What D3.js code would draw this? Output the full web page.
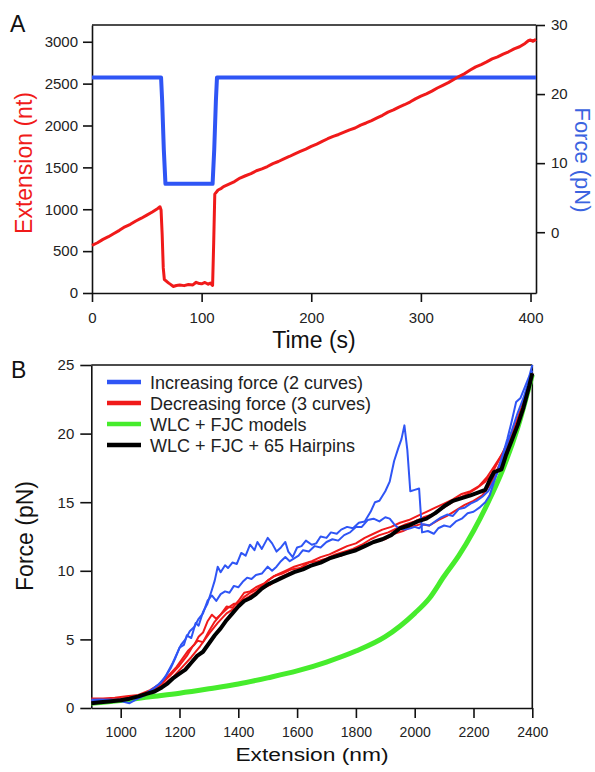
<!DOCTYPE html>
<html>
<head>
<meta charset="utf-8">
<script src="https://cdn.jsdelivr.net/npm/d3@7"></script>
<style>
  body { margin: 0; background: #fff; }
  svg { display: block; font-family: "Liberation Sans", Arial, sans-serif; }
</style>
</head>
<body>
<svg id="chart" width="595" height="772"></svg>
<script>
// ---- Panel A: extension and force vs time ----
const timeTicks = [0, 100, 200, 300, 400];
const extTicks = [0, 500, 1000, 1500, 2000, 2500, 3000];
const forceTicksA = [0, 10, 20, 30];

// [time (s), extension (nt)]
const extensionTrace = [
  [0, 570], [5, 600], [10, 640], [15, 672], [20, 710], [25, 748], [30, 790], [35, 820],
  [40, 860], [45, 893], [50, 930], [55, 968], [60, 1010], [62, 1030], [63, 990], [64, 700],
  [65, 300], [66, 160], [68, 140], [70, 118], [72, 100], [74, 78], [77, 90], [80, 95],
  [84, 88], [88, 102], [92, 96], [95, 128], [98, 112], [100, 110], [103, 126], [106, 104],
  [108, 118], [110, 90], [111, 600], [112, 1180], [115, 1230], [118, 1250], [120, 1270],
  [125, 1300], [130, 1330], [135, 1372], [140, 1400], [145, 1425], [150, 1460], [155, 1482],
  [160, 1510], [165, 1545], [170, 1570], [175, 1602], [180, 1630], [185, 1662], [190, 1690],
  [195, 1718], [200, 1750], [205, 1778], [210, 1810], [215, 1842], [220, 1870], [225, 1893],
  [230, 1920], [235, 1948], [240, 1970], [245, 2005], [250, 2030], [255, 2058], [260, 2090],
  [265, 2122], [270, 2160], [275, 2186], [280, 2220], [285, 2248], [290, 2280], [295, 2318],
  [300, 2350], [305, 2378], [310, 2410], [315, 2448], [320, 2480], [325, 2512], [330, 2550],
  [335, 2588], [340, 2620], [345, 2662], [350, 2700], [355, 2728], [360, 2760], [365, 2795],
  [370, 2820], [375, 2852], [380, 2880], [385, 2915], [390, 2940], [395, 2980], [398, 3012],
  [400, 3022], [402, 3005], [405, 3028]
];

// [time (s), force (pN)]
const forceTrace = [
  [0, 22.4], [63, 22.4], [64, 19], [65.5, 12], [67, 7.0], [110, 7.0],
  [111.5, 12], [113, 19], [114, 22.4], [405, 22.4]
];

// ---- Panel B: force vs extension ----
const extTicksB = [1000, 1200, 1400, 1600, 1800, 2000, 2200, 2400];
const forceTicksB = [0, 5, 10, 15, 20, 25];
const legendLabels = [
  "Increasing force (2 curves)",
  "Decreasing force (3 curves)",
  "WLC + FJC models",
  "WLC + FJC + 65 Hairpins"
];

// [extension (nm), force (pN)]
const increasing1 = [
  [900, 0.6], [930, 0.62], [960, 0.6], [990, 0.55], [1010, 0.45], [1030, 0.35], [1050, 0.6],
  [1080, 0.9], [1110, 1.4], [1130, 1.75], [1150, 2.2], [1170, 2.9], [1185, 3.6], [1200, 4.4],
  [1215, 4.6], [1225, 5.3], [1240, 5.1], [1255, 6.2], [1265, 6.0], [1280, 7.0], [1295, 7.6],
  [1310, 8.6], [1320, 9.3], [1330, 10.3], [1340, 9.9], [1355, 10.4], [1365, 10.2], [1380, 10.6],
  [1395, 10.5], [1410, 11.3], [1425, 11.1], [1440, 11.9], [1455, 11.5], [1465, 12.1], [1480, 11.6],
  [1500, 12.4], [1515, 12.0], [1530, 11.4], [1545, 11.7], [1560, 12.1], [1570, 11.4], [1585, 11.0],
  [1600, 11.7], [1615, 11.8], [1630, 12.2], [1650, 11.9], [1665, 12.0], [1680, 12.5], [1700, 12.4],
  [1715, 12.8], [1735, 12.7], [1750, 13.0], [1770, 13.2], [1790, 13.1], [1810, 13.5], [1830, 13.6],
  [1850, 14.3], [1865, 15.0], [1880, 15.1], [1900, 15.8], [1915, 16.5], [1930, 18.0], [1945, 19.0],
  [1955, 19.6], [1965, 20.6], [1975, 18.8], [1985, 15.8], [2000, 15.9], [2015, 16.0], [2025, 12.8],
  [2045, 12.9], [2065, 12.7], [2080, 13.1], [2100, 13.3], [2120, 13.2], [2140, 13.6], [2160, 13.8],
  [2180, 14.2], [2200, 14.3], [2220, 14.6], [2240, 15.0], [2255, 15.5], [2270, 16.5], [2285, 17.5],
  [2300, 18.5], [2315, 19.6], [2330, 20.9], [2345, 22.3], [2360, 22.6], [2375, 23.4], [2390, 24.2],
  [2400, 25.0]
];
const increasing2 = [
  [900, 0.5], [930, 0.55], [960, 0.6], [990, 0.6], [1020, 0.65], [1050, 0.8], [1080, 1.0],
  [1110, 1.4], [1135, 1.8], [1155, 2.4], [1175, 3.2], [1190, 3.9], [1205, 4.6], [1220, 5.0],
  [1235, 5.6], [1250, 5.9], [1265, 6.5], [1280, 6.9], [1295, 7.8], [1310, 8.2], [1325, 7.8],
  [1340, 8.3], [1355, 8.5], [1370, 8.4], [1385, 8.9], [1400, 8.8], [1415, 9.2], [1430, 9.5],
  [1445, 9.4], [1460, 9.7], [1480, 9.8], [1500, 10.3], [1515, 10.0], [1530, 10.3], [1545, 10.7],
  [1560, 11.0], [1575, 10.7], [1590, 10.9], [1605, 11.1], [1620, 11.5], [1640, 11.4], [1660, 11.8],
  [1680, 11.7], [1700, 12.1], [1720, 12.3], [1740, 12.2], [1760, 12.6], [1780, 12.8], [1800, 13.2],
  [1820, 13.2], [1840, 13.7], [1860, 13.8], [1880, 13.6], [1900, 13.9], [1915, 13.8], [1930, 13.4],
  [1945, 13.1], [1965, 13.0], [1985, 13.1], [2000, 13.2], [2015, 13.1], [2030, 13.4], [2050, 13.3],
  [2070, 13.6], [2090, 13.9], [2110, 14.1], [2130, 14.0], [2150, 14.5], [2170, 14.6], [2190, 14.9],
  [2210, 15.1], [2230, 15.4], [2250, 15.8], [2270, 16.6], [2290, 17.6], [2310, 19.0], [2330, 20.2],
  [2350, 21.5], [2370, 22.6], [2390, 24.0], [2400, 24.6]
];
const decreasing1 = [
  [900, 0.7], [940, 0.7], [980, 0.75], [1020, 0.85], [1060, 0.95], [1100, 1.3], [1130, 1.7],
  [1160, 2.3], [1190, 3.0], [1210, 3.6], [1230, 4.2], [1250, 4.6], [1265, 5.2], [1280, 5.5],
  [1295, 6.3], [1310, 6.8], [1325, 6.5], [1345, 6.9], [1365, 7.3], [1385, 7.6], [1400, 7.6],
  [1420, 8.1], [1440, 8.4], [1460, 8.6], [1480, 8.9], [1500, 9.3], [1530, 9.7], [1560, 10.0],
  [1590, 10.3], [1620, 10.5], [1650, 10.7], [1680, 11.0], [1710, 11.2], [1740, 11.5], [1770, 11.8],
  [1800, 12.0], [1830, 12.4], [1860, 12.7], [1890, 13.0], [1920, 13.2], [1950, 13.5], [1980, 13.7],
  [2010, 14.0], [2040, 14.3], [2070, 14.6], [2100, 14.9], [2130, 15.2], [2160, 15.6], [2190, 15.8],
  [2220, 16.2], [2245, 16.8], [2270, 17.6], [2300, 18.6], [2330, 20.0], [2360, 21.7], [2380, 22.9],
  [2400, 24.2]
];
const decreasing2 = [
  [900, 0.45], [940, 0.5], [980, 0.6], [1020, 0.7], [1060, 0.9], [1100, 1.2], [1140, 1.8],
  [1170, 2.4], [1200, 3.1], [1225, 3.8], [1245, 4.5], [1262, 4.9], [1280, 4.8], [1300, 5.6],
  [1320, 6.3], [1340, 6.8], [1360, 7.4], [1380, 7.3], [1400, 7.8], [1420, 8.4], [1440, 8.5],
  [1460, 8.8], [1490, 9.1], [1520, 9.6], [1550, 9.8], [1580, 10.1], [1610, 10.2], [1640, 10.6],
  [1670, 10.7], [1700, 10.9], [1730, 11.2], [1760, 11.4], [1790, 11.6], [1820, 11.9], [1850, 12.3],
  [1880, 12.6], [1910, 12.8], [1940, 13.1], [1970, 13.4], [2000, 13.6], [2030, 13.9], [2060, 14.1],
  [2090, 14.5], [2120, 14.9], [2150, 15.3], [2180, 15.6], [2210, 16.0], [2240, 16.5], [2260, 17.0],
  [2290, 18.2], [2320, 19.5], [2350, 21.0], [2375, 22.6], [2400, 24.4]
];
const decreasing3 = [
  [900, 0.5], [950, 0.55], [1000, 0.65], [1040, 0.8], [1080, 1.0], [1120, 1.4], [1150, 1.8],
  [1180, 2.3], [1210, 3.0], [1240, 3.7], [1270, 4.5], [1300, 5.4], [1330, 6.2], [1360, 6.9],
  [1390, 7.3], [1420, 7.9], [1450, 8.3], [1480, 8.7], [1510, 9.0], [1540, 9.5], [1570, 9.8],
  [1600, 10.0], [1630, 10.3], [1660, 10.5], [1690, 10.7], [1720, 11.0], [1750, 11.1], [1780, 11.4],
  [1810, 11.7], [1840, 11.9], [1870, 12.2], [1900, 12.3], [1930, 12.7], [1960, 12.9], [1990, 13.2],
  [2020, 13.4], [2050, 13.3], [2080, 13.7], [2110, 14.0], [2140, 14.4], [2170, 14.8], [2200, 15.1],
  [2230, 15.5], [2260, 16.4], [2290, 17.8], [2320, 19.3], [2350, 20.8], [2380, 22.8], [2400, 24.3]
];
const wlcFjc = [
  [900, 0.35], [1000, 0.55], [1100, 0.82], [1200, 1.08], [1300, 1.4], [1400, 1.75], [1500, 2.2],
  [1600, 2.7], [1700, 3.35], [1800, 4.15], [1900, 5.2], [2000, 6.9], [2050, 8.0], [2100, 9.6],
  [2150, 11.1], [2200, 12.9], [2250, 15.0], [2300, 17.4], [2350, 20.4], [2400, 24.3]
];
const wlcFjcHairpins = [
  [900, 0.35], [930, 0.42], [960, 0.48], [1000, 0.56], [1030, 0.68], [1060, 0.85], [1090, 1.05],
  [1115, 1.2], [1140, 1.5], [1160, 1.8], [1180, 2.2], [1200, 2.5], [1220, 2.8], [1240, 3.3],
  [1260, 3.8], [1280, 4.1], [1300, 4.7], [1320, 5.3], [1340, 5.8], [1360, 6.4], [1380, 6.9],
  [1400, 7.4], [1420, 7.8], [1440, 8.0], [1460, 8.3], [1480, 8.7], [1500, 9.0], [1530, 9.3],
  [1560, 9.6], [1590, 9.9], [1620, 10.1], [1650, 10.4], [1680, 10.6], [1710, 10.9], [1740, 11.1],
  [1770, 11.3], [1800, 11.5], [1830, 11.8], [1860, 12.1], [1890, 12.3], [1920, 12.6], [1950, 13.1],
  [1980, 13.3], [2010, 13.6], [2040, 13.8], [2070, 14.2], [2100, 14.7], [2130, 15.1], [2160, 15.3],
  [2190, 15.5], [2215, 15.7], [2240, 15.9], [2255, 16.6], [2270, 17.2], [2295, 17.4], [2310, 18.4],
  [2330, 19.5], [2350, 20.6], [2370, 21.9], [2390, 23.5], [2400, 24.4]
];

const RED = "#f01a1a", BLUE = "#2f55f5", GREEN = "#46ec2c", BLACK = "#000";
const FONT = "'Liberation Sans', Arial, sans-serif";

const svg = d3.select("#chart");

function styleAxis(g, size) {
  g.attr("font-family", FONT).attr("font-size", size);
  g.selectAll(".domain, .tick line").attr("stroke", "#111").attr("stroke-width", 1.6);
  g.selectAll(".tick text").attr("fill", "#222");
}

// ===== Panel A =====
const xA = d3.scaleLinear().domain([0, 405]).range([92, 536]);
const yExt = d3.scaleLinear().domain([0, 3200]).range([293, 25]);
const yForceA = d3.scaleLinear().domain([-8.8, 30]).range([293, 25]);

const gA = svg.append("g");
gA.append("line").attr("x1", 92).attr("x2", 536).attr("y1", 25).attr("y2", 25)
  .attr("stroke", "#111").attr("stroke-width", 1.6);

gA.append("g").attr("transform", "translate(0,293)")
  .call(d3.axisBottom(xA).tickValues(timeTicks).tickFormat(d3.format("d"))
    .tickSize(9).tickPadding(10).tickSizeOuter(0))
  .call(styleAxis, 15);
gA.append("g").attr("transform", "translate(92,0)")
  .call(d3.axisLeft(yExt).tickValues(extTicks).tickFormat(d3.format("d"))
    .tickSize(9).tickPadding(5).tickSizeOuter(0))
  .call(styleAxis, 15);
gA.append("g").attr("transform", "translate(536,0)")
  .call(d3.axisRight(yForceA).tickValues(forceTicksA).tickFormat(d3.format("d"))
    .tickSize(9).tickPadding(6).tickSizeOuter(0))
  .call(styleAxis, 15);

gA.append("path").datum(forceTrace)
  .attr("d", d3.line().x(d => xA(d[0])).y(d => yForceA(d[1])))
  .attr("fill", "none").attr("stroke", BLUE).attr("stroke-width", 4).attr("stroke-linejoin", "round");
gA.append("path").datum(extensionTrace)
  .attr("d", d3.line().x(d => xA(d[0])).y(d => yExt(d[1])))
  .attr("fill", "none").attr("stroke", RED).attr("stroke-width", 3).attr("stroke-linejoin", "round");

gA.append("text").attr("x", 10).attr("y", 32).attr("font-size", 23).attr("fill", "#111").text("A");
gA.append("text").attr("x", 314).attr("y", 348).attr("text-anchor", "middle")
  .attr("font-size", 23).attr("fill", "#111").text("Time (s)");
gA.append("text").attr("transform", "translate(32,163) rotate(-90)").attr("text-anchor", "middle")
  .attr("font-size", 23).attr("fill", RED).text("Extension (nt)");
gA.append("text").attr("transform", "translate(575,160) rotate(90)").attr("text-anchor", "middle")
  .attr("font-size", 22).attr("fill", "#3b63e0").text("Force (pN)");

// ===== Panel B =====
const xB = d3.scaleLinear().domain([900, 2400]).range([91.3, 532.3]);
const yB = d3.scaleLinear().domain([0, 25]).range([708, 365]);

const gB = svg.append("g");
gB.append("line").attr("x1", 91.3).attr("x2", 532.3).attr("y1", 365).attr("y2", 365)
  .attr("stroke", "#111").attr("stroke-width", 1.6);
gB.append("line").attr("x1", 532.3).attr("x2", 532.3).attr("y1", 365).attr("y2", 708)
  .attr("stroke", "#111").attr("stroke-width", 1.6);

gB.append("g").attr("transform", "translate(0,708)")
  .call(d3.axisBottom(xB).tickValues(extTicksB).tickFormat(d3.format("d"))
    .tickSize(10).tickPadding(9).tickSizeOuter(0))
  .call(styleAxis, 14);
gB.append("g").attr("transform", "translate(91.3,0)")
  .call(d3.axisLeft(yB).tickValues(forceTicksB).tickFormat(d3.format("d"))
    .tickSize(11).tickPadding(6).tickSizeOuter(0))
  .call(styleAxis, 15);

const lineB = d3.line().x(d => xB(d[0])).y(d => yB(d[1]));
const series = [
  { data: wlcFjc, color: GREEN, w: 5, curve: d3.curveMonotoneX },
  { data: decreasing1, color: RED, w: 2, curve: d3.curveLinear },
  { data: decreasing2, color: RED, w: 2, curve: d3.curveLinear },
  { data: decreasing3, color: RED, w: 2, curve: d3.curveLinear },
  { data: increasing1, color: BLUE, w: 2, curve: d3.curveLinear },
  { data: increasing2, color: BLUE, w: 2, curve: d3.curveLinear },
  { data: wlcFjcHairpins, color: BLACK, w: 4, curve: d3.curveLinear }
];
gB.selectAll("path.curve").data(series).enter().append("path")
  .attr("class", "curve")
  .attr("d", d => lineB.curve(d.curve)(d.data))
  .attr("fill", "none").attr("stroke", d => d.color).attr("stroke-width", d => d.w)
  .attr("stroke-linejoin", "round");

const legendColors = [BLUE, RED, GREEN, BLACK];
const leg = gB.selectAll("g.leg").data(legendLabels).enter().append("g")
  .attr("class", "leg").attr("transform", (d, i) => `translate(107,${382 + i * 21})`);
leg.append("line").attr("x1", 0).attr("x2", 34).attr("y1", 0).attr("y2", 0)
  .attr("stroke", (d, i) => legendColors[i]).attr("stroke-width", 4.5);
leg.append("text").attr("x", 43).attr("y", 6.5).attr("font-size", 18).attr("fill", "#222").text(d => d);

gB.append("text").attr("x", 11).attr("y", 378).attr("font-size", 23).attr("fill", "#111").text("B");
gB.append("text").attr("transform", "translate(312,761) scale(1.2,1)").attr("text-anchor", "middle")
  .attr("font-size", 19).attr("fill", "#111").text("Extension (nm)");
gB.append("text").attr("transform", "translate(33,536) rotate(-90)").attr("text-anchor", "middle")
  .attr("font-size", 23).attr("fill", "#111").text("Force (pN)");
</script>
</body>
</html>
